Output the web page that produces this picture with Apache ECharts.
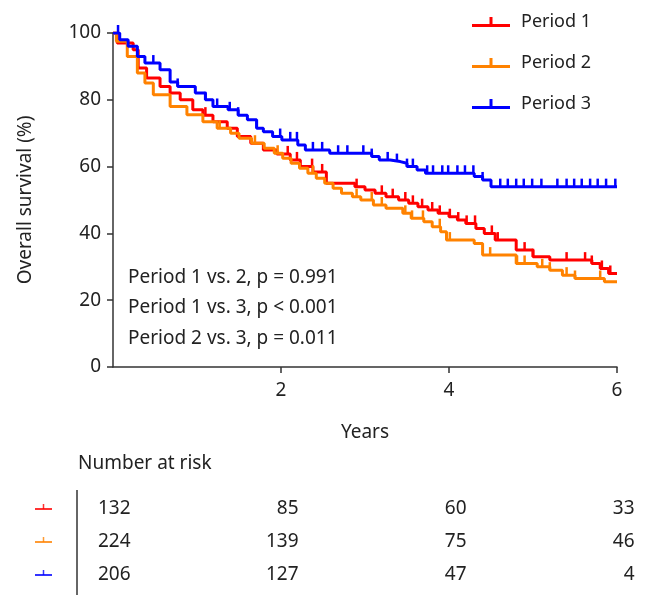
<!DOCTYPE html>
<html lang="en">
<head>
<meta charset="UTF-8">
<title>Overall survival</title>
<script src="https://cdn.jsdelivr.net/npm/echarts@6/dist/echarts.min.js"></script>
<style>
  html, body { margin: 0; padding: 0; background: #fff; }
  #main { width: 648px; height: 595px; }
</style>
</head>
<body>
<div id="main"></div>
<script>
// Kaplan-Meier steps, [years, survival %]
var period1 = [[0,100],[0.05,97],[0.24,95],[0.3,89.5],[0.4,86.5],[0.56,84],[0.68,82],[0.8,80],[0.95,77],[1.07,75.4],
  [1.19,73.4],[1.36,71.5],[1.48,69],[1.64,67],[1.79,65],[1.95,63.8],[2.11,62],[2.23,60],[2.38,58.4],[2.54,55],
  [2.88,54],[3.0,53],[3.12,52],[3.25,51],[3.4,50],[3.52,49],[3.63,48],[3.75,47],[3.87,46],[4.0,45],[4.1,44],
  [4.2,43],[4.32,41.5],[4.42,40],[4.55,38],[4.8,35],[5.0,33],[5.2,32],[5.7,31],[5.8,29.5],[5.9,28],[6,28]];
var period2 = [[0,100],[0.04,97.5],[0.17,93],[0.29,88],[0.38,85],[0.48,81.5],[0.68,78],[0.88,75.5],[1.07,73.4],
  [1.24,71.5],[1.4,70],[1.5,68.5],[1.65,67],[1.8,65.5],[1.92,64],[2.02,62.5],[2.12,61],[2.22,59.5],[2.32,58],
  [2.42,56.5],[2.52,55],[2.62,53.5],[2.72,52],[2.85,51],[2.95,50],[3.1,48.5],[3.25,47.5],[3.45,46],[3.55,44.5],
  [3.7,43.5],[3.8,42],[3.9,40.5],[3.97,38],[4.3,37],[4.4,33.5],[4.8,31],[5.05,30],[5.2,29],[5.35,27.5],
  [5.5,26.5],[5.85,25.5],[6,25.5]];
var period3 = [[0,100],[0.08,98],[0.18,96],[0.29,93],[0.38,91],[0.56,89],[0.68,85.3],[0.77,84],[0.98,82],[1.1,80],
  [1.19,78],[1.37,77],[1.49,75.4],[1.6,74],[1.71,71.5],[1.79,70.4],[1.9,69],[2.01,68],[2.2,66.5],[2.29,65],
  [2.58,64],[3.08,63],[3.17,62],[3.3,61.5],[3.42,61],[3.5,60],[3.62,59],[3.72,58],[4.3,57],[4.4,56],[4.5,54],[6,54]];

// censoring times (years)
var cens1 = [1.1,2.08,2.19,2.37,2.49,2.9,3.2,3.33,3.48,3.57,3.68,3.8,3.89,4.01,4.11,4.21,4.31,4.51,4.58,4.9,5.0,
  5.4,5.62,5.7,5.82,5.92];
var cens2 = [1.27,1.69,1.96,2.38,2.9,3.08,3.2,3.48,3.56,3.69,3.89,4.01,4.49,4.81,4.9,5.11,5.2,5.4,5.5,5.8];
var cens3 = [0.06,0.48,0.77,1.1,1.24,1.39,1.49,1.71,1.99,2.11,2.19,2.38,2.49,2.68,2.79,2.98,3.08,3.27,3.38,3.5,
  3.57,3.74,3.81,3.92,3.99,4.1,4.19,4.29,4.4,4.61,4.7,4.8,4.89,4.99,5.1,5.29,5.4,5.49,5.58,5.68,5.77,5.87,5.98];

var names = ['Period 1', 'Period 2', 'Period 3'];
var colors = ['#ff0000', '#ff8200', '#0000ff'];
var pTexts = ['Period 1 vs. 2, p = 0.991', 'Period 1 vs. 3, p < 0.001', 'Period 2 vs. 3, p = 0.011'];

// number at risk
var riskTimes = [0, 2, 4, 6];
var risk1 = [132, 85, 60, 33];
var risk2 = [224, 139, 75, 46];
var risk3 = [206, 127, 47, 4];

var FONT = 'Noto Sans';
var TXT = '#222';
var tickIcon = 'path://M0,9 L38,9 L38,12 L0,12 Z M17.5,2 L20.5,2 L20.5,10 L17.5,10 Z';

function survAt(steps, t) {
  var s = steps[0][1];
  for (var i = 0; i < steps.length; i++) {
    if (steps[i][0] <= t) s = steps[i][1];
  }
  return s;
}

var curves = [period1, period2, period3];
var censors = [cens1, cens2, cens3];
var risks = [risk1, risk2, risk3];

var series = [];
curves.forEach(function (c, i) {
  series.push({
    name: names[i], type: 'line', step: 'end', data: c,
    showSymbol: false, symbol: 'none', z: 3 + i,
    lineStyle: { color: colors[i], width: 3 },
    itemStyle: { color: colors[i] }
  });
});
censors.forEach(function (cs, i) {
  series.push({
    name: names[i] + ' censored', type: 'scatter', z: 3 + i,
    data: cs.map(function (t) { return [t, survAt(curves[i], t)]; }),
    symbol: 'rect', symbolSize: [2.5, 8], symbolOffset: [0, -4],
    itemStyle: { color: colors[i], opacity: 1 }
  });
});
risks.forEach(function (r, i) {
  series.push({
    name: names[i] + ' risk', type: 'scatter', xAxisIndex: 1, yAxisIndex: 1,
    data: r.map(function (v, k) { return [riskTimes[k], names[i], v]; }),
    symbolSize: 1, itemStyle: { color: 'rgba(0,0,0,0)', opacity: 1 },
    label: {
      show: true, position: 'left', distance: 0, offset: [18, 0],
      formatter: function (p) { return p.value[2]; },
      fontFamily: FONT, fontSize: 19, color: TXT
    }
  });
});

var graphics = [];
pTexts.forEach(function (t, i) {
  graphics.push({
    type: 'text', left: 128, top: 268 + i * 30.5,
    style: { text: t, fontFamily: FONT, fontSize: 19, fill: TXT }
  });
});
graphics.push({
  type: 'text', left: 78, top: 454,
  style: { text: 'Number at risk', fontFamily: FONT, fontSize: 19, fill: TXT }
});
graphics.push({
  type: 'line', shape: { x1: 77, y1: 490, x2: 77, y2: 595 },
  style: { stroke: '#333', lineWidth: 1.5 }
});
[509, 542, 575].forEach(function (y, i) {
  graphics.push({ type: 'line', shape: { x1: 35, y1: y, x2: 52, y2: y },
    style: { stroke: colors[i], lineWidth: 2, opacity: 0.8 } });
  graphics.push({ type: 'line', shape: { x1: 43.5, y1: y - 5, x2: 43.5, y2: y },
    style: { stroke: colors[i], lineWidth: 1.5, opacity: 0.8 } });
});

var chart = echarts.init(document.getElementById('main'));
chart.setOption({
  animation: false,
  backgroundColor: '#fff',
  textStyle: { fontFamily: FONT },
  legend: {
    data: names.map(function (n) { return { name: n, icon: tickIcon }; }),
    orient: 'vertical', left: 467, top: 6,
    itemWidth: 38, itemHeight: 12, itemGap: 19,
    textStyle: { fontFamily: FONT, fontSize: 18, color: TXT, lineHeight: 22, padding: [0, 0, 0, 6] }
  },
  grid: [
    { left: 113, right: 31, top: 33, bottom: 228 },
    { left: 113, right: 31, top: 492, height: 99 }
  ],
  xAxis: [{
    type: 'value', min: 0, max: 6, interval: 2,
    name: 'Years', nameLocation: 'middle', nameGap: 56,
    nameTextStyle: { fontFamily: FONT, fontSize: 19, color: TXT },
    axisLine: { lineStyle: { color: '#333', width: 1.5 } },
    axisTick: { length: 6, customValues: [2, 4, 6], lineStyle: { color: '#333', width: 1.5 } },
    axisLabel: { customValues: [2, 4, 6], margin: 14, fontFamily: FONT, fontSize: 19, color: TXT },
    splitLine: { show: false }
  }, {
    gridIndex: 1, type: 'value', min: 0, max: 6, show: false
  }],
  yAxis: [{
    type: 'value', min: 0, max: 100, interval: 20,
    name: 'Overall survival (%)', nameLocation: 'middle', nameGap: 78,
    nameTextStyle: { fontFamily: FONT, fontSize: 19, color: TXT },
    axisLine: { show: true, lineStyle: { color: '#333', width: 1.5 } },
    axisTick: { show: true, length: 6, lineStyle: { color: '#333', width: 1.5 } },
    axisLabel: { margin: 12, fontFamily: FONT, fontSize: 19, color: TXT },
    splitLine: { show: false }
  }, {
    gridIndex: 1, type: 'category', data: names, inverse: true, show: false
  }],
  graphic: graphics,
  series: series
});
</script>
</body>
</html>
